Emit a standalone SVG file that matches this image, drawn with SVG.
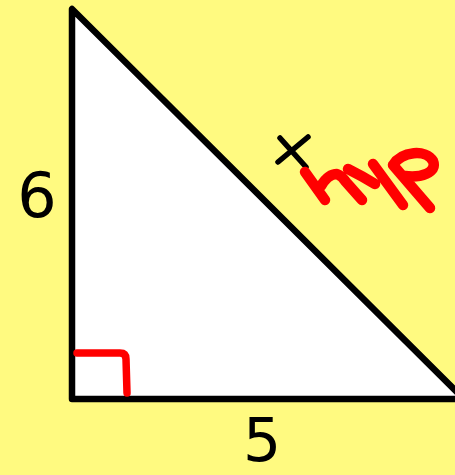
<svg xmlns="http://www.w3.org/2000/svg" width="455" height="475" viewBox="0 0 455 475">
<style>
.num{font-family:"DejaVu Sans","Liberation Sans",sans-serif;font-size:62px;fill:#000;text-anchor:middle}
.red{fill:none;stroke:#ff0000;stroke-linecap:round;stroke-linejoin:round}
</style>
<rect width="455" height="475" fill="#fffa80"/>
<g id="triangle">
<polygon points="72,9 72,399 464,399" fill="#ffffff" stroke="#000" stroke-width="6.5" stroke-linejoin="round"/>
</g>
<g id="right-angle">
<path class="red" stroke-width="7.5" d="M77,353 L120,353 Q126,353 126,359 L127,393"/>
</g>
<g id="label-6"><text class="num" x="37" y="217">6</text></g>
<g id="label-5"><text class="num" x="262" y="461" style="font-size:60px">5</text></g>
<g id="label-x">
<path d="M280,138 L306,167 M308,137 L278,162" stroke="#000" stroke-width="5.5" stroke-linecap="round" fill="none"/>
</g>
<g id="label-hyp">
<path class="red" stroke-width="10.5" d="M305,172 L325,200 M321,186 Q328,174 337,174 Q342,176 346,182 L362,200 M348,169 Q362,176 375,184 M373,164 L403,205 M393,165 L430,208 M393,165 C402,151 426,149 433,161 C438,173 420,178 405,176"/>
</g>
</svg>
